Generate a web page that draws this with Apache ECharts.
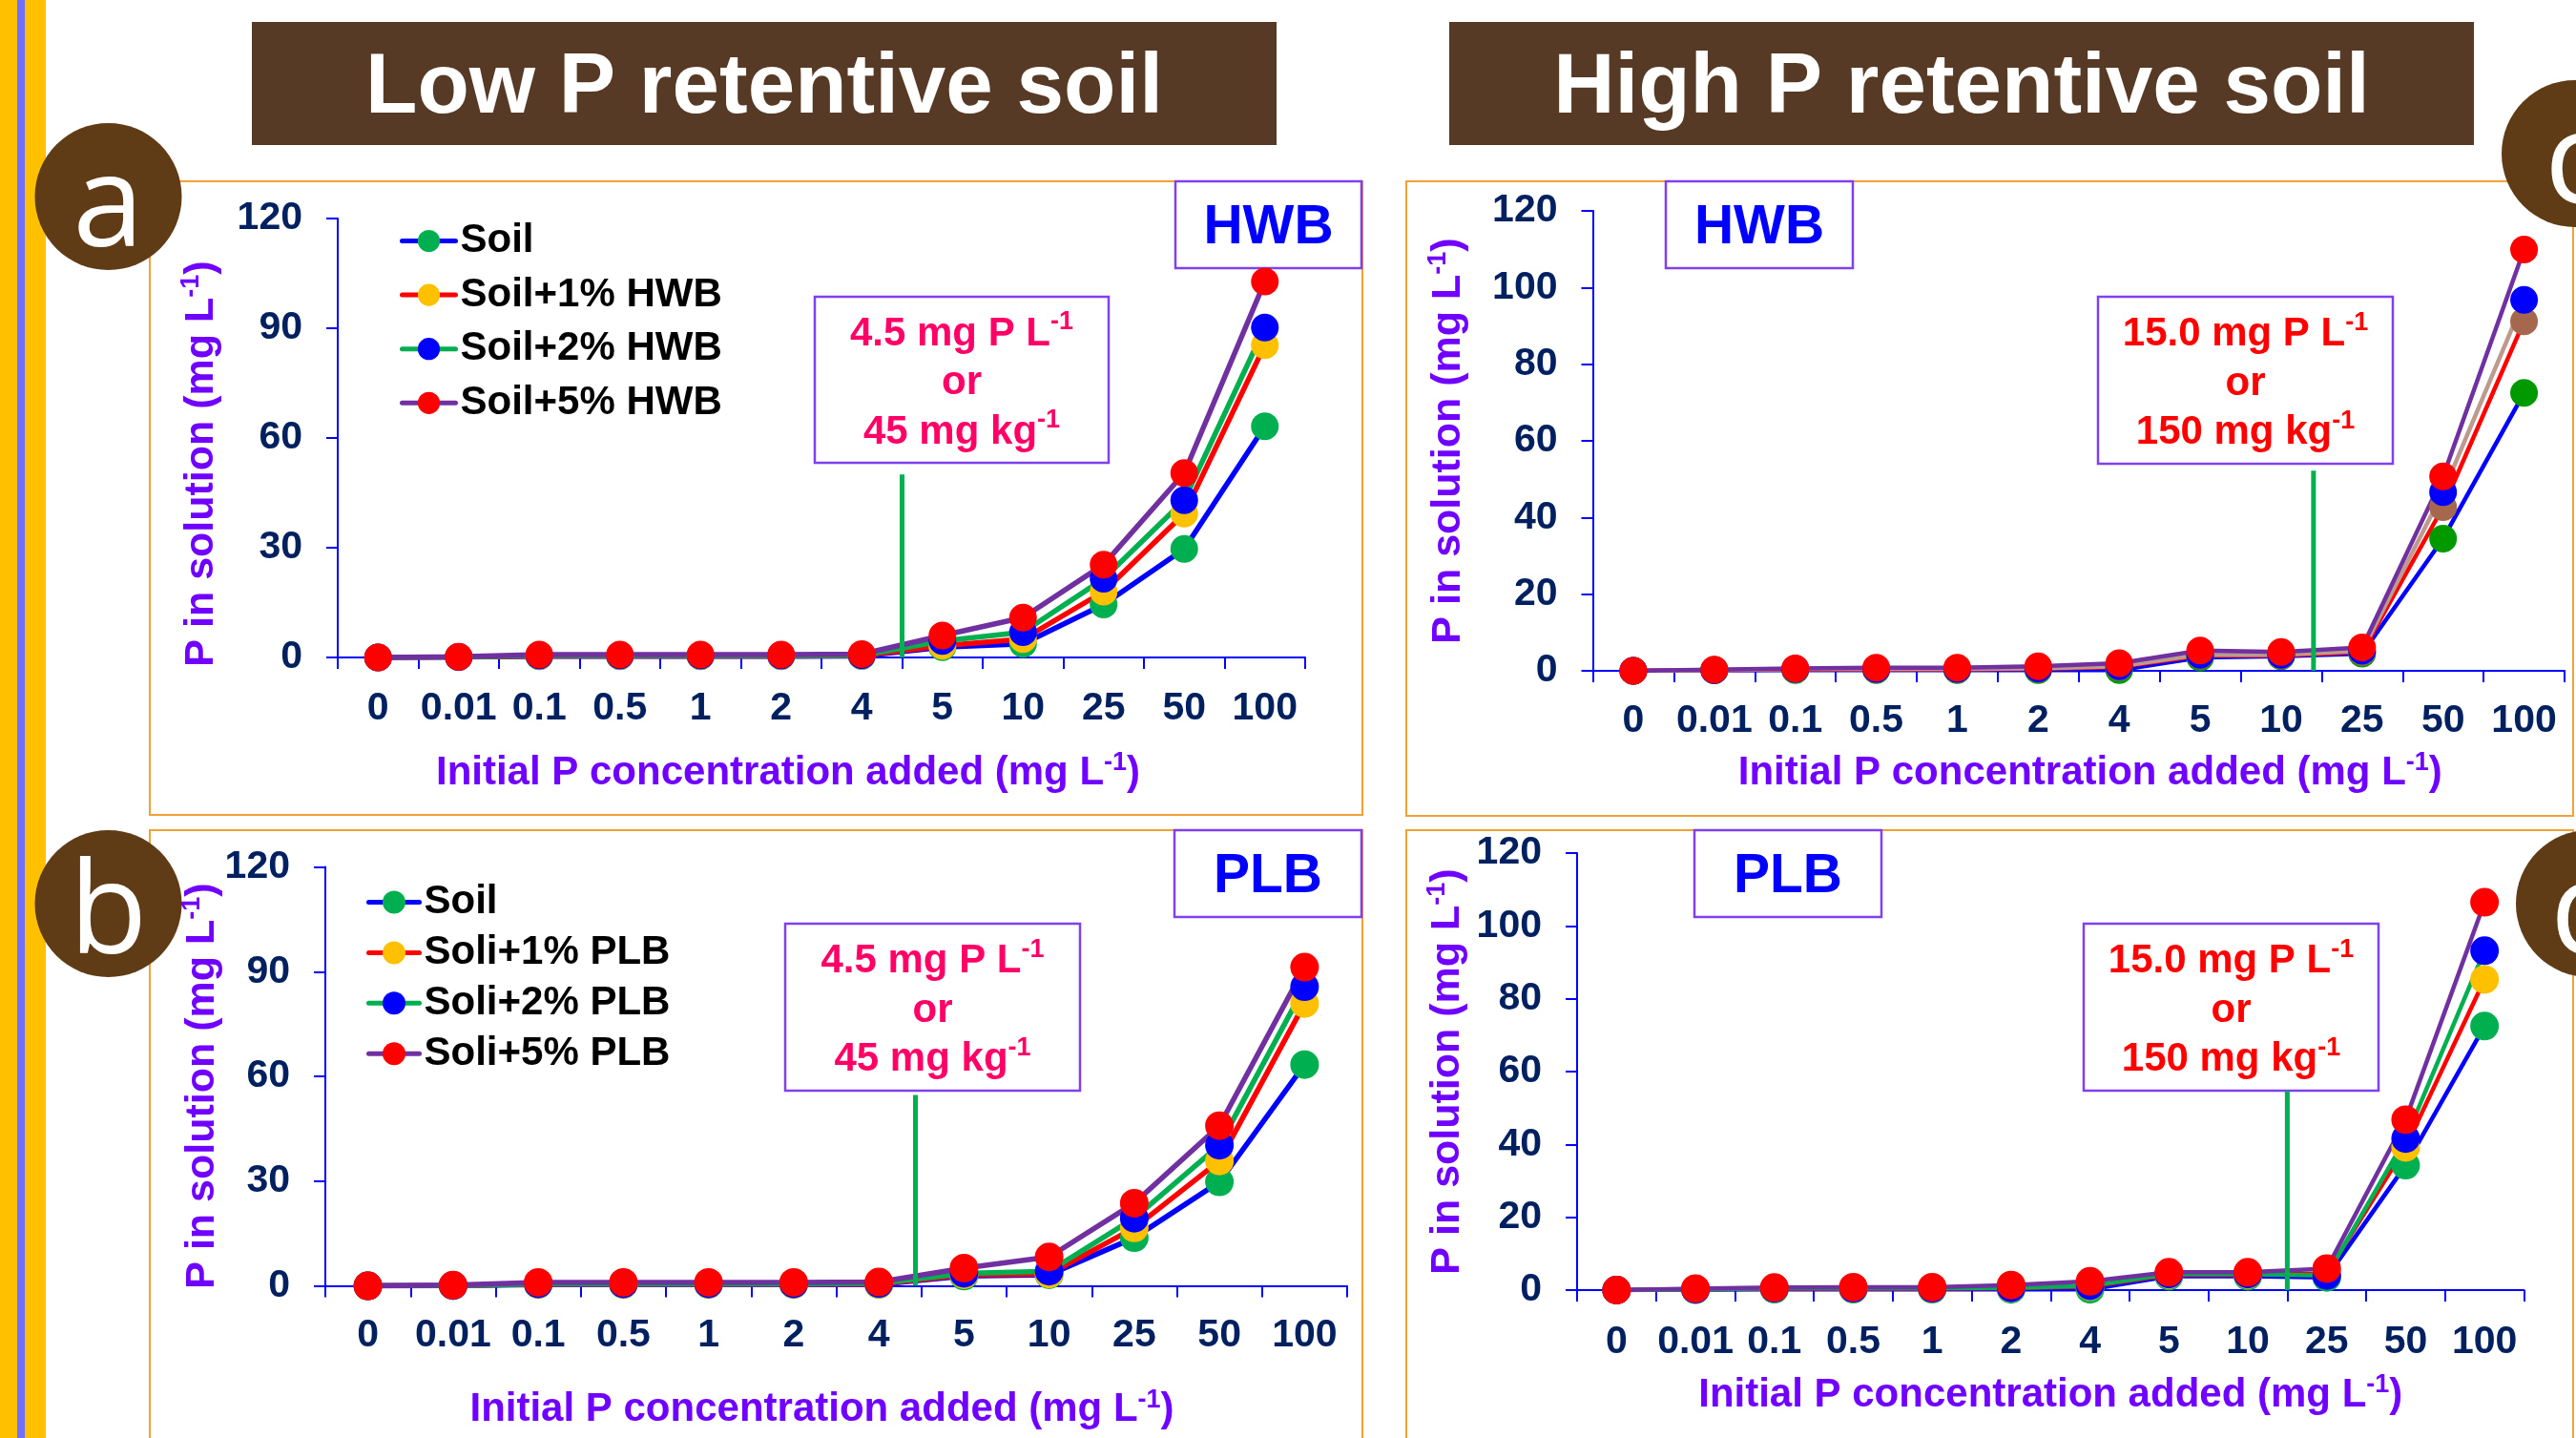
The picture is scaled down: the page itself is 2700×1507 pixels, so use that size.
<!DOCTYPE html>
<html>
<head>
<meta charset="utf-8">
<script src="https://cdn.jsdelivr.net/npm/echarts@6/dist/echarts.min.js"></script>
<style>
html,body{margin:0;padding:0;background:#ffffff;}
#chart{width:2700px;height:1507px;}
</style>
</head>
<body>
<div id="chart"></div>
<script>
// ---------------- data ----------------
const categories = ['0','0.01','0.1','0.5','1','2','4','5','10','25','50','100'];

const legendHWB = ['Soil','Soil+1% HWB','Soil+2% HWB','Soil+5% HWB'];
const legendPLB = ['Soil','Soli+1% PLB','Soli+2% PLB','Soli+5% PLB'];

// (a) Low P retentive soil, HWB
const lowHWB_soil = [0, 0.1, 0.3, 0.3, 0.3, 0.3, 0.4, 2.8, 3.7, 14.5, 29.7, 63.2];
const lowHWB_1    = [0, 0.1, 0.4, 0.4, 0.4, 0.4, 0.5, 3.2, 5.0, 18.0, 39.3, 85.4];
const lowHWB_2    = [0, 0.1, 0.5, 0.5, 0.5, 0.5, 0.6, 4.5, 6.9, 21.5, 43.0, 90.2];
const lowHWB_5    = [0, 0.2, 0.8, 0.8, 0.8, 0.8, 0.9, 6.0, 10.9, 25.4, 50.4, 102.8];

// (b) Low P retentive soil, PLB
const lowPLB_soil = [0, 0.1, 0.4, 0.4, 0.4, 0.4, 0.4, 2.8, 3.2, 13.8, 29.8, 63.4];
const lowPLB_1    = [0, 0.1, 0.5, 0.5, 0.5, 0.5, 0.5, 3.2, 3.4, 16.6, 35.8, 80.9];
const lowPLB_2    = [0, 0.1, 0.6, 0.6, 0.6, 0.6, 0.7, 3.6, 4.2, 19.4, 40.3, 85.7];
const lowPLB_5    = [0, 0.2, 1.0, 1.0, 1.0, 1.0, 1.1, 5.1, 8.3, 23.7, 45.9, 91.3];

// (c) High P retentive soil, HWB
const highHWB_soil = [0, 0.1, 0.2, 0.2, 0.2, 0.2, 0.2, 3.5, 3.8, 4.5, 34.5, 72.5];
const highHWB_1    = [0, 0.2, 0.4, 0.4, 0.4, 0.5, 1.0, 4.0, 4.0, 4.9, 42.7, 91.2];
const highHWB_2    = [0, 0.2, 0.5, 0.5, 0.5, 0.6, 1.2, 4.2, 4.2, 5.2, 46.6, 96.8];
const highHWB_5    = [0, 0.3, 0.6, 0.8, 0.8, 1.2, 2.0, 5.3, 4.9, 6.1, 50.7, 109.9];

// (d) High P retentive soil, PLB
const highPLB_soil = [0, 0.1, 0.2, 0.2, 0.2, 0.2, 0.2, 3.8, 3.8, 3.5, 34.3, 72.5];
const highPLB_1    = [0, 0.2, 0.4, 0.4, 0.4, 0.5, 1.0, 4.2, 4.2, 4.5, 39.2, 85.3];
const highPLB_2    = [0, 0.2, 0.5, 0.5, 0.5, 0.6, 1.2, 4.4, 4.4, 4.0, 41.6, 93.2];
const highPLB_5    = [0, 0.4, 0.7, 0.8, 0.8, 1.4, 2.4, 4.9, 4.9, 5.9, 46.8, 106.5];

// threshold markers (category-boundary position, P in solution)
const thresholdA = [[7, 0], [7, 50]];
const thresholdB = [[6.93, 0], [6.93, 54.7]];
const thresholdC = [[8.9, 0], [8.9, 52.2]];
const thresholdD = [[9, 0], [9, 54.7]];

const yMaxLow = 120, yStepLow = 30;
const yMaxHigh = 120, yStepHigh = 20;

// ---------------- style ----------------
const FONT = '"Liberation Sans", Arial, Helvetica, sans-serif';
const NAVY = '#002060';
const VIOLET = '#7000FF';
const AXIS = '#0000FF';
const BOXLINE = '#8040F0';

const chart = echarts.init(document.getElementById('chart'), null, {renderer: 'canvas'});

function gridDef(l, t, w, h) {
  return {left: l, top: t, width: w, height: h, containLabel: false, outerBoundsMode: 'none'};
}
const grids = [
  gridDef(354, 229, 1014, 460),      // a
  gridDef(341, 908.6, 1071, 439),    // b
  gridDef(1669.5, 221, 1018.5, 482), // c
  gridDef(1653, 894, 992.5, 458)     // d
];

function richName(main, sup, tail) {
  return '{t|' + main + '}{s|' + sup + '}{t|' + tail + '}';
}
function nameStyle(size, padding) {
  return {
    fontFamily: FONT, fontWeight: 'bold', fontSize: size, color: VIOLET, padding: padding,
    rich: {
      t: {fontFamily: FONT, fontWeight: 'bold', fontSize: size, lineHeight: 48, color: VIOLET},
      s: {fontFamily: FONT, fontWeight: 'bold', fontSize: 27, lineHeight: 28, verticalAlign: 'top', color: VIOLET}
    }
  };
}

function catAxis(g, labelMargin, nameGap, namePad) {
  return {
    type: 'category', gridIndex: g, data: categories, boundaryGap: true,
    axisLine: {show: true, onZero: false, lineStyle: {color: AXIS, width: 2}},
    axisTick: {show: true, length: 12, interval: 0, alignWithLabel: false, lineStyle: {color: AXIS, width: 2}},
    axisLabel: {interval: 0, margin: labelMargin, color: NAVY, fontSize: 41, fontWeight: 'bold', fontFamily: FONT},
    splitLine: {show: false},
    name: richName('Initial P concentration added (mg L', '-1', ')'),
    nameLocation: 'middle', nameGap: nameGap, nameMoveOverlap: false,
    nameTextStyle: nameStyle(42, namePad)
  };
}
function hiddenX(g) {
  return {type: 'value', gridIndex: g, min: 0, max: 12, show: false};
}
function valAxis(g, max, step, nameGap, namePad) {
  return {
    type: 'value', gridIndex: g, min: 0, max: max, interval: step,
    axisLine: {show: true, onZero: false, lineStyle: {color: AXIS, width: 2}},
    axisTick: {show: true, length: 12, lineStyle: {color: AXIS, width: 2}},
    axisLabel: {margin: 37, color: NAVY, fontSize: 41, fontWeight: 'bold', fontFamily: FONT},
    splitLine: {show: false},
    name: richName('P in solution (mg L', '-1', ')'),
    nameLocation: 'middle', nameGap: nameGap, nameRotate: 90, nameMoveOverlap: false,
    nameTextStyle: nameStyle(43, namePad)
  };
}

const xAxes = [
  catAxis(0, 33, 97, [0, 70, 0, 0]), hiddenX(0),
  catAxis(1, 31.5, 106, [0, 30, 0, 0]), hiddenX(1),
  catAxis(2, 32, 83, [0, 0, 0, 24]), hiddenX(2),
  catAxis(3, 34, 86, [0, 0, 0, 0]), hiddenX(3)
];
const yAxes = [
  valAxis(0, yMaxLow, yStepLow, 118.5, [0, 54, 0, 0]),
  valAxis(1, yMaxLow, yStepLow, 105, [0, 20, 0, 0]),
  valAxis(2, yMaxHigh, yStepHigh, 127.5, [0, 0, 0, 0]),
  valAxis(3, yMaxHigh, yStepHigh, 112, [0, 0, 0, 0])
];

function lineSeries(name, data, g, lineColor, markerColor, width, size) {
  return {
    type: 'line', name: name, data: data, xAxisIndex: 2 * g, yAxisIndex: g,
    symbol: 'circle', symbolSize: size, showSymbol: true, showAllSymbol: true,
    color: markerColor,
    lineStyle: {color: lineColor, width: width},
    itemStyle: {color: markerColor},
    emphasis: {disabled: true}, silent: true, animation: false
  };
}
function thresholdSeries(data, g) {
  return {
    type: 'line', name: 'threshold-' + g, data: data, xAxisIndex: 2 * g + 1, yAxisIndex: g,
    symbol: 'none', lineStyle: {color: '#00B050', width: 5}, z: 5, silent: true, animation: false
  };
}

const BLUE = '#0000FF', RED = '#FF0000', GREEN = '#00B050', PURPLE = '#7030A0', YELLOW = '#FFC000';

const series = [
  // a
  lineSeries(legendHWB[0], lowHWB_soil, 0, BLUE, GREEN, 5.5, 29),
  lineSeries(legendHWB[1], lowHWB_1, 0, RED, YELLOW, 5.5, 29),
  lineSeries(legendHWB[2], lowHWB_2, 0, GREEN, BLUE, 5.5, 29),
  lineSeries(legendHWB[3], lowHWB_5, 0, PURPLE, RED, 5.5, 29),
  thresholdSeries(thresholdA, 0),
  // b
  lineSeries(legendPLB[0], lowPLB_soil, 1, BLUE, GREEN, 5.5, 30),
  lineSeries(legendPLB[1], lowPLB_1, 1, RED, YELLOW, 5.5, 30),
  lineSeries(legendPLB[2], lowPLB_2, 1, GREEN, BLUE, 5.5, 30),
  lineSeries(legendPLB[3], lowPLB_5, 1, PURPLE, RED, 5.5, 30),
  thresholdSeries(thresholdB, 1),
  // c
  lineSeries('High P: Soil', highHWB_soil, 2, BLUE, '#009900', 4.5, 29),
  lineSeries('High P: Soil+1% HWB', highHWB_1, 2, RED, '#A5684E', 4.5, 29),
  lineSeries('High P: Soil+2% HWB', highHWB_2, 2, '#BC9A8E', BLUE, 4.5, 29),
  lineSeries('High P: Soil+5% HWB', highHWB_5, 2, PURPLE, RED, 4.5, 29),
  thresholdSeries(thresholdC, 2),
  // d
  lineSeries('High P: Soil ', highPLB_soil, 3, BLUE, GREEN, 4.5, 30),
  lineSeries('High P: Soil+1% PLB', highPLB_1, 3, RED, YELLOW, 4.5, 30),
  lineSeries('High P: Soil+2% PLB', highPLB_2, 3, GREEN, BLUE, 4.5, 30),
  lineSeries('High P: Soil+5% PLB', highPLB_5, 3, PURPLE, RED, 4.5, 30),
  thresholdSeries(thresholdD, 3)
];

const legendText = {fontSize: 42, fontWeight: 'bold', color: '#000000', fontFamily: FONT};
const legends = [
  {orient: 'vertical', left: 419, top: 231.5, padding: 0, itemWidth: 56, itemHeight: 29, itemGap: 14.6,
   data: legendHWB, textStyle: legendText, selectedMode: false,
   lineStyle: {width: 5, cap: 'round'}},
  {orient: 'vertical', left: 384, top: 924.5, padding: 0, itemWidth: 53, itemHeight: 30, itemGap: 10.9,
   data: legendPLB, textStyle: legendText, selectedMode: false,
   lineStyle: {width: 5, cap: 'round'}}
];

// ---------------- decorations ----------------
function titleBox(x, y, w, h, text) {
  return [
    {type: 'rect', shape: {x: x, y: y, width: w, height: h}, style: {fill: '#573A26'}},
    {type: 'text', style: {text: text, x: x + w / 2, y: 93.5, align: 'center', verticalAlign: 'middle',
      fill: '#FFFFFF', fontSize: 89, fontWeight: 'bold', fontFamily: FONT}}
  ];
}
function badge(cx, cy, letter) {
  return [
    {type: 'circle', shape: {cx: cx, cy: cy, r: 77}, style: {fill: '#5F3B16'}},
    {type: 'text', style: {text: letter, x: cx, y: cy + 14, align: 'center', verticalAlign: 'middle',
      fill: '#FFFFFF', fontSize: 134, fontWeight: 'normal', fontFamily: '"Open Sans", Lato, sans-serif'}}
  ];
}
function panel(x, y, w, h) {
  return {type: 'rect', z: -1, shape: {x: x, y: y, width: w, height: h},
    style: {fill: 'none', stroke: '#F2A135', lineWidth: 2}};
}
function tagBox(x, y, w, h, text) {
  return [
    {type: 'rect', shape: {x: x, y: y, width: w, height: h}, style: {fill: '#FFFFFF', stroke: BOXLINE, lineWidth: 2.5}},
    {type: 'text', style: {text: text, x: x + w / 2, y: y + h / 2 + 4, align: 'center', verticalAlign: 'middle',
      fill: '#0000FF', fontSize: 57, fontWeight: 'bold', fontFamily: FONT}}
  ];
}
function noteBox(x, y, w, h, l1, l3, color) {
  const tok = {fontFamily: FONT, fontWeight: 'bold', fontSize: 42, lineHeight: 51.5, fill: color};
  const sup = {fontFamily: FONT, fontWeight: 'bold', fontSize: 27, lineHeight: 30, verticalAlign: 'top', fill: color};
  return [
    {type: 'rect', shape: {x: x, y: y, width: w, height: h}, style: {fill: '#FFFFFF', stroke: BOXLINE, lineWidth: 2.5}},
    {type: 'text', style: {
      text: '{t|' + l1 + '}{s|-1}\n{t|or}\n{t|' + l3 + '}{s|-1}',
      x: x + w / 2, y: y + h / 2 + 3.5, align: 'center', verticalAlign: 'middle',
      fill: color, fontSize: 42, fontWeight: 'bold', fontFamily: FONT,
      rich: {t: tok, s: sup}
    }}
  ];
}

const graphics = [].concat(
  [
    {type: 'rect', shape: {x: 0, y: 0, width: 48, height: 1507}, style: {fill: '#FFC000'}},
    {type: 'rect', shape: {x: 18, y: 0, width: 8, height: 1507}, style: {fill: '#7070FF'}}
  ],
  panel(157, 190, 1271, 664), panel(1474, 190, 1223, 665),
  panel(157, 870, 1271, 700), panel(1474, 870, 1223, 700),
  titleBox(264, 23, 1074, 129, 'Low P retentive soil'),
  titleBox(1519, 23, 1074, 129, 'High P retentive soil'),
  tagBox(1232, 190, 195, 91, 'HWB'),
  tagBox(1746, 190, 196, 91, 'HWB'),
  tagBox(1231, 870, 196, 91, 'PLB'),
  tagBox(1776, 870, 196, 91, 'PLB'),
  noteBox(854, 311, 308, 174, '4.5 mg P L', '45 mg kg', '#FF0066'),
  noteBox(2199, 311, 309, 175, '15.0 mg P L', '150 mg kg', '#FF0000'),
  noteBox(823, 968, 309, 175, '4.5 mg P L', '45 mg kg', '#FF0066'),
  noteBox(2184, 968, 309, 175, '15.0 mg P L', '150 mg kg', '#FF0000'),
  badge(113.5, 206, 'a'),
  badge(113.5, 947, 'b'),
  badge(2699, 161, 'c'),
  badge(2714, 947, 'd')
);

chart.setOption({
  animation: false,
  backgroundColor: '#FFFFFF',
  grid: grids,
  xAxis: xAxes,
  yAxis: yAxes,
  legend: legends,
  series: series,
  graphic: {elements: graphics}
});
</script>
</body>
</html>
